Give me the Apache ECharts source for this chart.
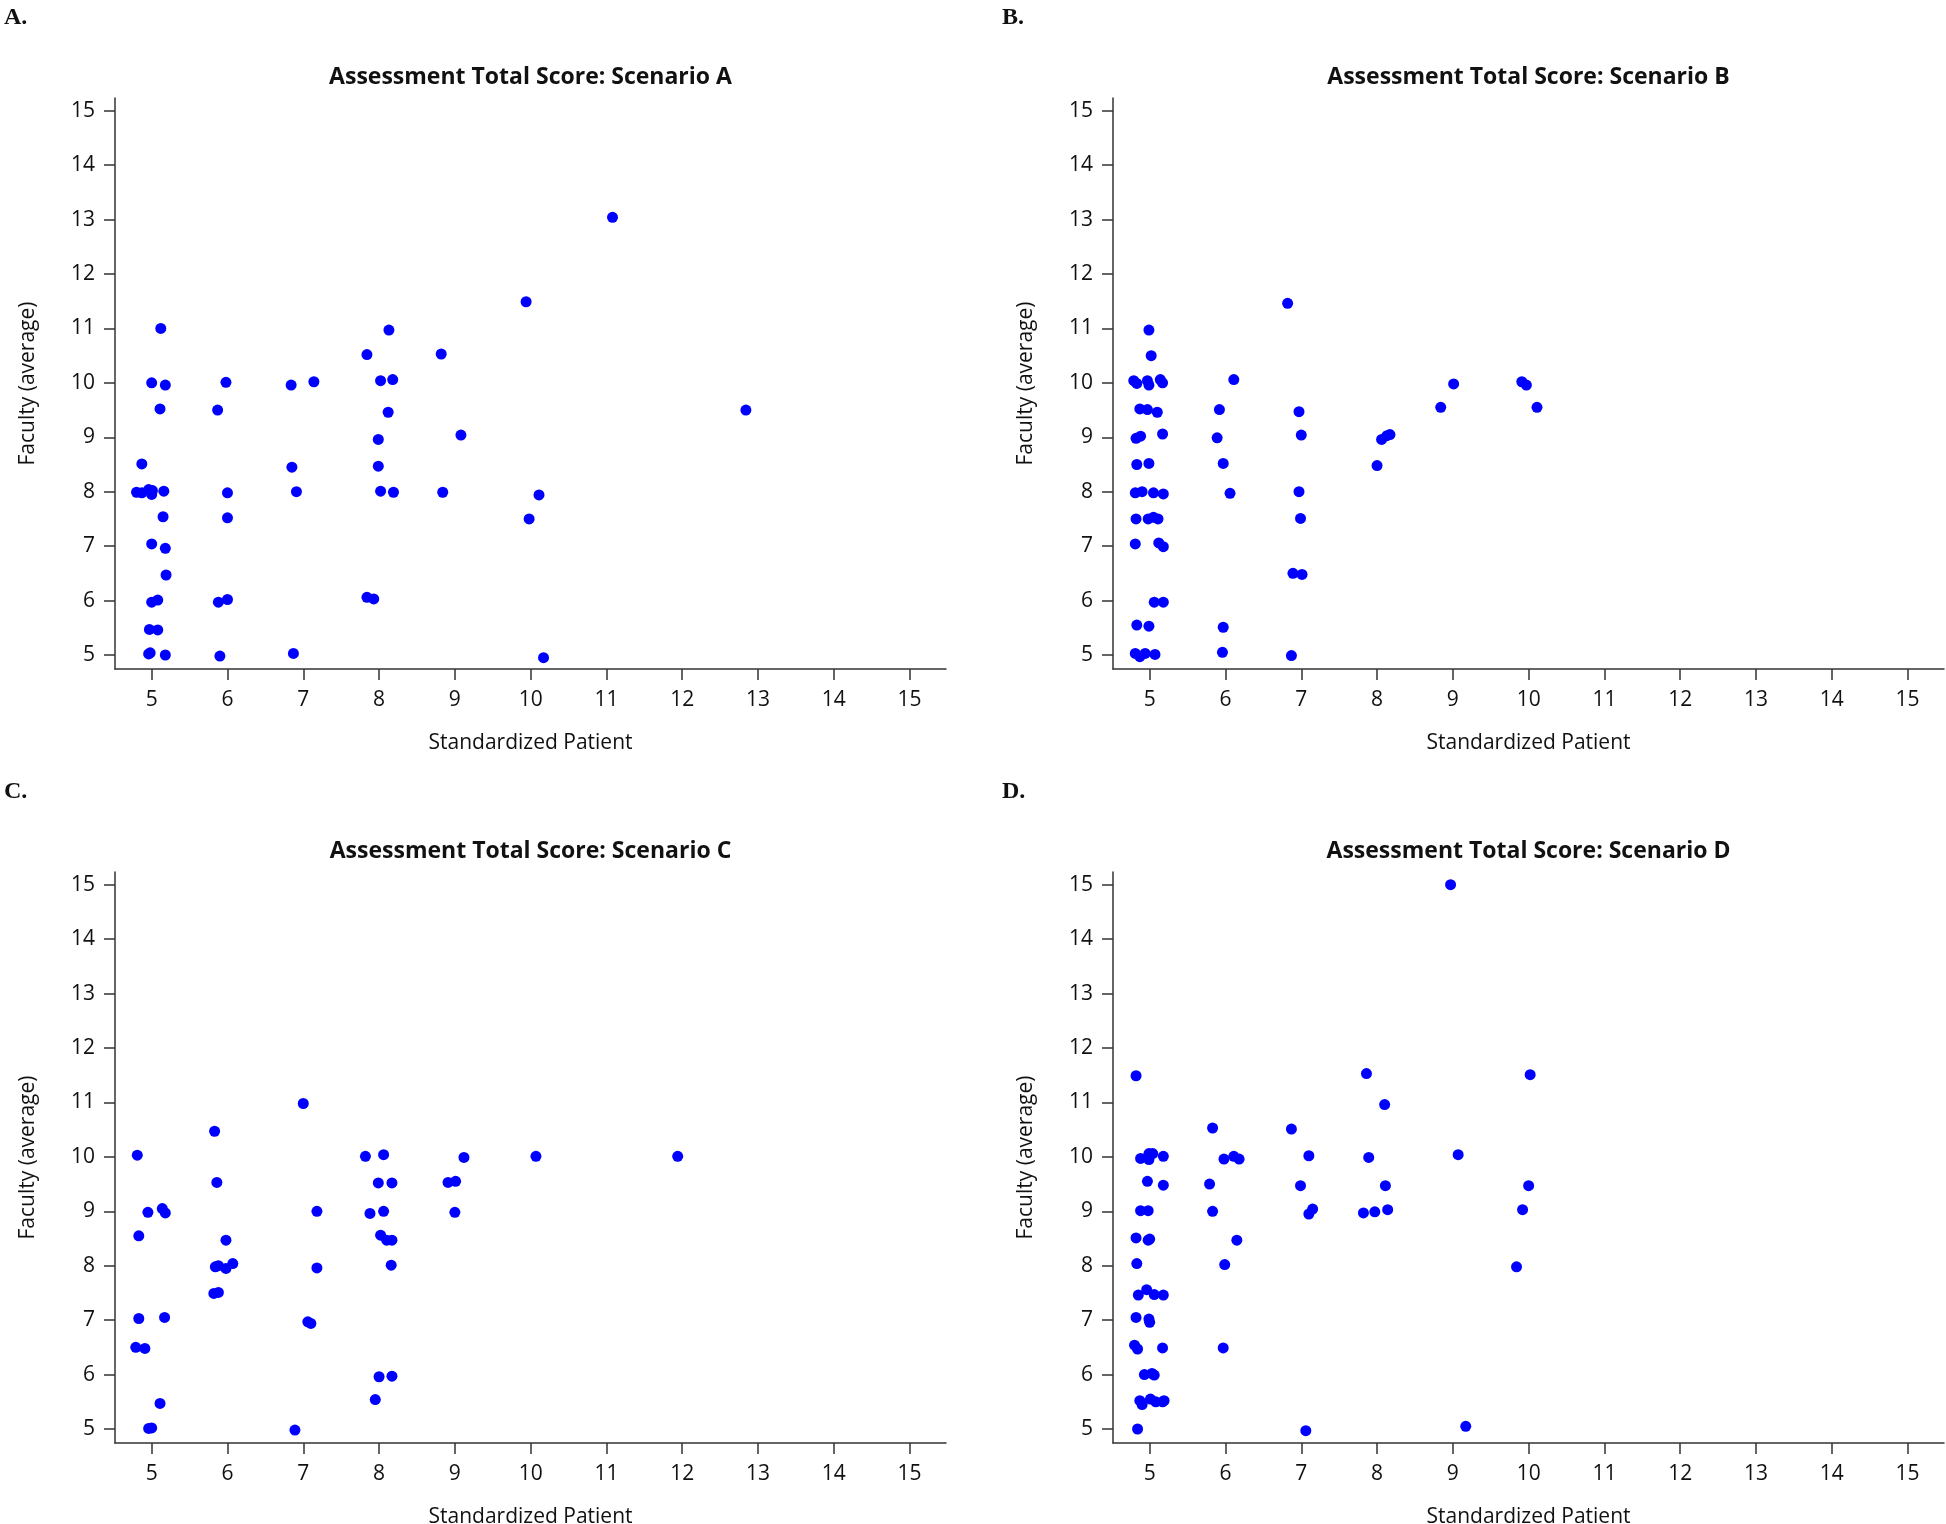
<!DOCTYPE html>
<html>
<head>
<meta charset="utf-8">
<script src="https://cdn.jsdelivr.net/npm/echarts@6/dist/echarts.min.js"></script>
<style>
html,body{margin:0;padding:0;background:#fff;}
#chart{width:1946px;height:1524px;}
</style>
</head>
<body>
<div id="chart"></div>
<script>
// ---- tick labels ----
const xTicks = [5, 6, 7, 8, 9, 10, 11, 12, 13, 14, 15];
const yTicks = [5, 6, 7, 8, 9, 10, 11, 12, 13, 14, 15];

// ---- panel labels and titles ----
const panelLabels = ['A.', 'B.', 'C.', 'D.'];
const panelTitles = [
  'Assessment Total Score: Scenario A',
  'Assessment Total Score: Scenario B',
  'Assessment Total Score: Scenario C',
  'Assessment Total Score: Scenario D'
];
const xName = 'Standardized Patient';
const yName = 'Faculty (average)';

// ---- Scenario A ----
const spA = [5.12, 5.00, 5.18, 5.11, 4.87, 4.80, 4.87, 4.96, 5.01, 5.00, 5.16, 5.15, 5.00, 5.18, 5.19, 5.00, 5.08, 4.97, 5.08, 4.96, 4.98, 5.18,
  5.98, 5.87, 6.00, 6.00, 5.88, 6.00, 5.90,
  6.84, 7.14, 6.85, 6.91, 6.87,
  8.13, 7.84, 8.02, 8.18, 8.12, 7.99, 7.99, 8.02, 8.19, 7.84, 7.93,
  8.82, 8.84, 9.08, 9.94, 10.11, 9.98, 10.17, 11.08, 12.84];
const facA = [11.00, 10.00, 9.96, 9.52, 8.51, 7.99, 7.98, 8.04, 8.02, 7.95, 8.01, 7.54, 7.04, 6.96, 6.47, 5.97, 6.01, 5.47, 5.46, 5.02, 5.04, 5.00,
  10.01, 9.50, 7.98, 7.52, 5.97, 6.02, 4.98,
  9.96, 10.02, 8.45, 8.00, 5.03,
  10.97, 10.52, 10.04, 10.06, 9.46, 8.96, 8.47, 8.01, 7.99, 6.06, 6.03,
  10.53, 7.99, 9.04, 11.49, 7.94, 7.50, 4.95, 13.04, 9.50];

// ---- Scenario B ----
const spB = [6.82, 4.99, 5.02, 4.79, 4.83, 4.97, 4.99, 5.14, 5.17, 6.11, 9.01, 9.91, 9.97,
  4.87, 4.97, 5.10, 5.92, 6.97, 8.84, 10.11,
  4.82, 4.88, 5.17, 5.89, 7.00, 8.06, 8.13, 8.17,
  4.83, 4.99, 5.97, 8.00,
  4.81, 4.90, 5.05, 5.18, 6.06, 6.97,
  4.82, 4.98, 5.05, 5.11, 6.99,
  4.81, 5.12, 5.18,
  6.89, 7.01,
  5.06, 5.18,
  4.83, 4.99, 5.97,
  4.81, 4.87, 4.94, 5.07, 5.96, 6.87];
const facB = [11.46, 10.97, 10.50, 10.04, 9.99, 10.04, 9.96, 10.06, 10.00, 10.06, 9.98, 10.02, 9.96,
  9.52, 9.51, 9.46, 9.51, 9.47, 9.55, 9.55,
  8.98, 9.02, 9.06, 8.99, 9.04, 8.96, 9.03, 9.05,
  8.50, 8.52, 8.52, 8.48,
  7.98, 8.00, 7.98, 7.96, 7.97, 8.00,
  7.50, 7.50, 7.53, 7.50, 7.51,
  7.04, 7.06, 6.99,
  6.50, 6.48,
  5.97, 5.97,
  5.55, 5.53, 5.51,
  5.03, 4.97, 5.03, 5.01, 5.05, 4.99];

// ---- Scenario C ----
const spC = [7.00, 5.83, 4.81, 7.82, 8.06, 5.86, 7.99, 8.17,
  4.95, 5.14, 5.18, 7.18, 7.88, 8.06,
  4.83, 5.98, 8.02, 8.10, 8.17,
  5.84, 5.88, 5.98, 6.07, 7.18, 8.16,
  5.82, 5.88,
  4.83, 5.17, 7.06, 7.10,
  4.79, 4.91,
  8.00, 8.17, 7.95, 5.11,
  4.96, 5.00, 6.89,
  9.12, 10.07, 11.94, 8.91, 9.01, 9.00];
const facC = [10.98, 10.47, 10.03, 10.01, 10.04, 9.53, 9.52, 9.52,
  8.98, 9.05, 8.97, 9.00, 8.96, 9.00,
  8.55, 8.47, 8.56, 8.47, 8.47,
  7.98, 8.00, 7.95, 8.04, 7.96, 8.01,
  7.49, 7.51,
  7.03, 7.05, 6.97, 6.94,
  6.50, 6.48,
  5.96, 5.97, 5.54, 5.47,
  5.01, 5.02, 4.98,
  9.99, 10.01, 10.01, 9.53, 9.55, 8.98];

// ---- Scenario D ----
const spD = [4.82, 7.86, 8.10, 5.83, 6.87,
  4.88, 4.99, 5.04, 4.99, 5.18, 5.98, 6.11, 6.18, 7.10, 7.89,
  4.97, 5.18, 5.79, 6.99, 8.11,
  4.88, 4.98, 5.83, 7.10, 7.15, 7.82, 7.97, 8.14,
  4.82, 4.98, 5.00, 6.15,
  4.83, 5.99,
  4.85, 4.96, 5.06, 5.18,
  4.82, 4.99, 5.00,
  4.80, 4.84, 5.17, 5.97,
  4.93, 5.03, 5.06,
  4.87, 4.90, 5.01, 5.08, 5.17, 5.19,
  4.84, 7.06,
  8.97, 10.02, 9.07, 10.00, 9.92, 9.84, 9.17];
const facD = [11.49, 11.53, 10.96, 10.53, 10.51,
  9.97, 10.06, 10.06, 9.95, 10.01, 9.96, 10.01, 9.96, 10.02, 9.99,
  9.55, 9.48, 9.50, 9.47, 9.47,
  9.01, 9.01, 9.00, 8.95, 9.04, 8.97, 8.99, 9.03,
  8.51, 8.47, 8.49, 8.47,
  8.04, 8.02,
  7.46, 7.56, 7.47, 7.46,
  7.05, 7.02, 6.96,
  6.54, 6.47, 6.49, 6.49,
  6.00, 6.02, 5.99,
  5.52, 5.45, 5.55, 5.50, 5.50, 5.52,
  5.00, 4.97,
  15.00, 11.51, 10.04, 9.47, 9.03, 7.98, 5.05];

const spAll = [spA, spB, spC, spD];
const facAll = [facA, facB, facC, facD];

// ---- layout ----
const gridW = 831, gridH = 571;
const lefts = [115, 1113, 115, 1113];
const tops = [98, 98, 872, 872];
const labelFont = 'Open Sans';

const grids = [], xAxes = [], yAxes = [], series = [], titles = [];
for (let i = 0; i < 4; i++) {
  grids.push({left: lefts[i], top: tops[i], width: gridW, height: gridH, containLabel: false, outerBoundsMode: 'none'});
  xAxes.push({
    type: 'value', gridIndex: i, min: 4.516, max: 15.48,
    name: xName, nameLocation: 'middle', nameGap: 64,
    nameTextStyle: {fontFamily: labelFont, fontSize: 21, color: '#111'},
    axisLine: {show: true, onZero: false, lineStyle: {color: '#333', width: 1.5}},
    axisTick: {show: true, length: 11, inside: false, customValues: xTicks, lineStyle: {color: '#333', width: 1.5}},
    axisLabel: {customValues: xTicks, margin: 21, fontFamily: labelFont, fontSize: 21, color: '#111'},
    splitLine: {show: false}
  });
  yAxes.push({
    type: 'value', gridIndex: i, min: 4.743, max: 15.233,
    name: yName, nameLocation: 'middle', nameGap: 76, nameRotate: 90,
    nameTextStyle: {fontFamily: labelFont, fontSize: 21, color: '#111'},
    axisLine: {show: true, onZero: false, lineStyle: {color: '#333', width: 1.5}},
    axisTick: {show: true, length: 11, inside: false, customValues: yTicks, lineStyle: {color: '#333', width: 1.5}},
    axisLabel: {customValues: yTicks, margin: 20, fontFamily: labelFont, fontSize: 21, color: '#111'},
    splitLine: {show: false}
  });
  series.push({
    type: 'scatter', xAxisIndex: i, yAxisIndex: i,
    data: spAll[i].map((v, k) => [v, facAll[i][k]]),
    symbol: 'circle', symbolSize: 11,
    itemStyle: {color: '#0000ff', opacity: 1},
    emphasis: {disabled: true}, silent: true
  });
  titles.push({
    text: panelTitles[i], left: lefts[i] + gridW / 2, top: tops[i] - 32, textAlign: 'center', padding: 0,
    textStyle: {fontFamily: labelFont, fontWeight: 'bold', fontSize: 23, color: '#111'}
  });
  titles.push({
    text: panelLabels[i], left: (i % 2 === 0 ? 4 : 1002), top: tops[i] - 92, padding: 0,
    textStyle: {fontFamily: 'Liberation Serif', fontWeight: 'bold', fontSize: 24, color: '#111'}
  });
}

const chart = echarts.init(document.getElementById('chart'), null, {renderer: 'canvas'});
chart.setOption({
  backgroundColor: '#fff',
  animation: false,
  title: titles,
  grid: grids,
  xAxis: xAxes,
  yAxis: yAxes,
  series: series
});
</script>
</body>
</html>
